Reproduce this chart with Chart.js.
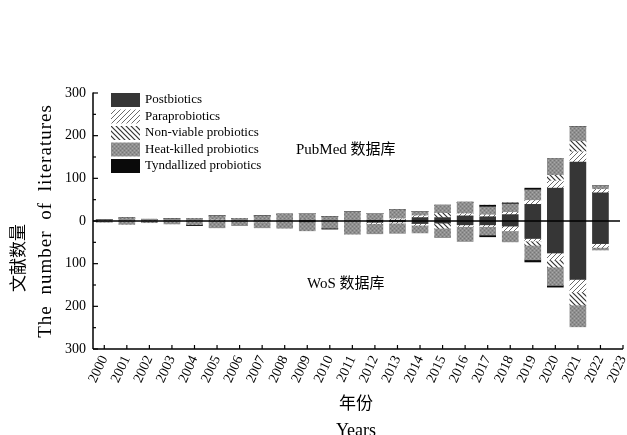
<!DOCTYPE html>
<html>
<head>
<meta charset="utf-8">
<script src="https://cdn.jsdelivr.net/npm/chart.js@4.4.0/dist/chart.umd.min.js"></script>
<style>
  html, body { margin: 0; padding: 0; background: #fff; }
  #wrap { width: 627px; height: 435px; }
</style>
</head>
<body>
<div id="wrap"><canvas id="c"></canvas></div>
<script>
const years = [2000, 2001, 2002, 2003, 2004, 2005, 2006, 2007, 2008, 2009, 2010, 2011,
               2012, 2013, 2014, 2015, 2016, 2017, 2018, 2019, 2020, 2021, 2022];
const tickYears = [2000, 2001, 2002, 2003, 2004, 2005, 2006, 2007, 2008, 2009, 2010, 2011,
                   2012, 2013, 2014, 2015, 2016, 2017, 2018, 2019, 2020, 2021, 2022, 2023];
const yTicks = [-300, -200, -100, 0, 100, 200, 300];

// PubMed (drawn above zero)
const pubPost = [0, 0, 0, 0, 0, 0, 0, 0, 0, 2, 0, 0, 2, 2, 8, 8, 12, 10, 15, 39, 77, 138, 66];
const pubPara = [0, 0, 0, 0, 0, 2, 0, 0, 0, 0, 0, 0, 0, 3, 4, 0, 5, 4, 5, 9, 17, 24, 8];
const pubNonV = [0, 0, 0, 0, 0, 0, 0, 0, 0, 0, 0, 0, 0, 0, 0, 10, 0, 0, 0, 0, 13, 25, 0];
const pubHeat = [3, 7, 4, 5, 6, 10, 6, 12, 16, 16, 10, 22, 16, 21, 10, 19, 27, 19, 20, 25, 39, 34, 9];
const pubTynd = [0, 0, 0, 0, 0, 0, 0, 0, 0, 0, 0, 0, 0, 0, 0, 0, 0, 4, 2, 4, 0, 0, 0];

// WoS (drawn below zero)
const wosPost = [0, 0, 0, 0, 0, 0, 0, 0, 0, 2, 0, 0, 3, 2, 6, 5, 9, 9, 12, 41, 75, 137, 53];
const wosPara = [0, 0, 0, 0, 0, 0, 0, 2, 0, 0, 0, 0, 3, 3, 4, 0, 4, 4, 11, 6, 16, 30, 9];
const wosNonV = [0, 0, 0, 0, 0, 0, 0, 0, 0, 0, 0, 0, 0, 0, 0, 12, 0, 0, 0, 10, 17, 30, 0];
const wosHeat = [3, 8, 4, 7, 9, 16, 11, 14, 17, 21, 17, 31, 24, 24, 18, 22, 35, 20, 26, 34, 43, 51, 6];
const wosTynd = [0, 0, 0, 0, 2, 0, 0, 0, 0, 0, 2, 0, 0, 0, 0, 0, 0, 4, 0, 5, 4, 0, 0];

const serif = '"Liberation Serif", "Times New Roman", "Noto Sans CJK SC", serif';

const canvas = document.getElementById('c');
const ctx0 = canvas.getContext('2d');

function tile(w, h, draw) {
    const t = document.createElement('canvas');
    t.width = w; t.height = h;
    draw(t.getContext('2d'), w, h);
    return ctx0.createPattern(t, 'repeat');
}

// fills for the five kinds
const fillPost = '#363636';
const fillTynd = '#0a0a0a';
const fillHeat = tile(4, 4, (g) => {
    g.fillStyle = '#8f8f8f'; g.fillRect(0, 0, 4, 4);
    g.fillStyle = '#a8a8a8'; g.fillRect(0, 0, 1, 1); g.fillRect(2, 2, 1, 1);
    g.fillStyle = '#767676'; g.fillRect(2, 0, 1, 1); g.fillRect(0, 2, 1, 1);
});
const fillPara = tile(5, 5, (g, w, h) => {
    g.fillStyle = '#fff'; g.fillRect(0, 0, w, h);
    g.strokeStyle = '#6a6a6a'; g.lineWidth = 1;
    g.beginPath();
    g.moveTo(-1, h + 1); g.lineTo(w + 1, -1);
    g.moveTo(-1, 1); g.lineTo(1, -1);
    g.moveTo(w - 1, h + 1); g.lineTo(w + 1, h - 1);
    g.stroke();
});
const fillNonV = tile(5, 5, (g, w, h) => {
    g.fillStyle = '#fff'; g.fillRect(0, 0, w, h);
    g.strokeStyle = '#333'; g.lineWidth = 1.2;
    g.beginPath();
    g.moveTo(-1, -1); g.lineTo(w + 1, h + 1);
    g.moveTo(w - 1, -1); g.lineTo(w + 1, 1);
    g.moveTo(-1, h - 1); g.lineTo(1, h + 1);
    g.stroke();
});

const kinds = [
    { name: 'Postbiotics', pub: pubPost, wos: wosPost, fill: fillPost },
    { name: 'Paraprobiotics', pub: pubPara, wos: wosPara, fill: fillPara },
    { name: 'Non-viable probiotics', pub: pubNonV, wos: wosNonV, fill: fillNonV },
    { name: 'Heat-killed probiotics', pub: pubHeat, wos: wosHeat, fill: fillHeat },
    { name: 'Tyndallized probiotics', pub: pubTynd, wos: wosTynd, fill: fillTynd }
];

const datasets = [];
kinds.forEach(k => datasets.push({
    label: k.name,
    data: years.map((yr, i) => ({ x: yr, y: k.pub[i] })),
    backgroundColor: k.fill, borderWidth: 0, barThickness: 16, stack: 's'
}));
kinds.forEach(k => datasets.push({
    label: k.name + ' (WoS)',
    data: years.map((yr, i) => ({ x: yr, y: -k.wos[i] })),
    backgroundColor: k.fill, borderWidth: 0, barThickness: 16, stack: 's'
}));

function line(ctx, x1, y1, x2, y2) {
    ctx.beginPath(); ctx.moveTo(x1, y1); ctx.lineTo(x2, y2); ctx.stroke();
}

const decor = {
    id: 'decor',
    afterDatasetsDraw(chart) {
        const { ctx, chartArea: a, scales: { x, y } } = chart;
        ctx.save();
        ctx.strokeStyle = '#000';

        // zero line
        ctx.lineWidth = 1.3;
        const y0 = y.getPixelForValue(0);
        line(ctx, a.left, y0, a.right - 3, y0);

        // axis lines
        ctx.lineWidth = 1.5;
        line(ctx, a.left, a.top - 0.5, a.left, a.bottom);
        line(ctx, a.left, a.bottom, a.right, a.bottom);

        // inward ticks
        ctx.lineWidth = 1.2;
        for (let v = -300; v <= 300; v += 50) {
            const py = y.getPixelForValue(v);
            line(ctx, a.left, py, a.left + (v % 100 === 0 ? 5 : 3), py);
        }
        tickYears.forEach(v => {
            const px = x.getPixelForValue(v);
            line(ctx, px, a.bottom, px, a.bottom - 4);
        });

        // legend
        ctx.font = '13px ' + serif;
        ctx.textAlign = 'left';
        ctx.textBaseline = 'middle';
        kinds.forEach((k, i) => {
            const top = 93 + i * 16.5;
            ctx.fillStyle = k.fill;
            ctx.fillRect(111, top, 29, 14);
            ctx.fillStyle = '#000';
            ctx.fillText(k.name, 145, top + 7);
        });

        // database labels
        ctx.font = '15px ' + serif;
        ctx.fillText('PubMed 数据库', 296, 150);
        ctx.fillText('WoS 数据库', 307, 284);

        // axis titles
        ctx.textAlign = 'center';
        ctx.font = '17px ' + serif;
        ctx.fillText('年份', 356, 405);
        ctx.font = '18px ' + serif;
        ctx.fillText('Years', 356, 431);

        ctx.save();
        ctx.translate(20, 258);
        ctx.rotate(-Math.PI / 2);
        ctx.font = '17px ' + serif;
        ctx.fillText('文献数量', 0, 0);
        ctx.restore();

        ctx.save();
        ctx.translate(46, 221);
        ctx.rotate(-Math.PI / 2);
        ctx.font = '19px ' + serif;
        ctx.letterSpacing = '1px';
        ctx.wordSpacing = '5px';
        ctx.fillText('The number of literatures', 0, 0);
        ctx.restore();

        ctx.restore();
    }
};

new Chart(canvas, {
    type: 'bar',
    data: { datasets },
    options: {
        responsive: true,
        maintainAspectRatio: false,
        animation: false,
        layout: { padding: { top: 93, right: 4, left: 0, bottom: 0 } },
        plugins: { legend: { display: false }, tooltip: { enabled: false } },
        scales: {
            x: {
                type: 'linear',
                min: 1999.5,
                max: 2023,
                offset: false,
                stacked: true,
                afterBuildTicks: (s) => { s.ticks = tickYears.map(v => ({ value: v })); },
                afterFit: (s) => { s.height = 86; s.paddingLeft = 0; s.paddingRight = 0; },
                grid: { display: false, drawTicks: false, offset: false },
                border: { display: false },
                ticks: {
                    autoSkip: false, minRotation: 65, maxRotation: 65, padding: 4,
                    color: '#000', font: { family: serif, size: 14 },
                    callback: (v) => String(v)
                }
            },
            y: {
                min: -300,
                max: 300,
                stacked: true,
                afterBuildTicks: (s) => { s.ticks = yTicks.map(v => ({ value: v })); },
                afterFit: (s) => { s.width = 93; s.paddingTop = 0; s.paddingBottom = 0; },
                grid: { display: false, drawTicks: false },
                border: { display: false },
                ticks: {
                    padding: 7, color: '#000', font: { family: serif, size: 14 },
                    callback: (v) => String(Math.abs(v))
                }
            }
        }
    },
    plugins: [decor]
});
</script>
</body>
</html>
